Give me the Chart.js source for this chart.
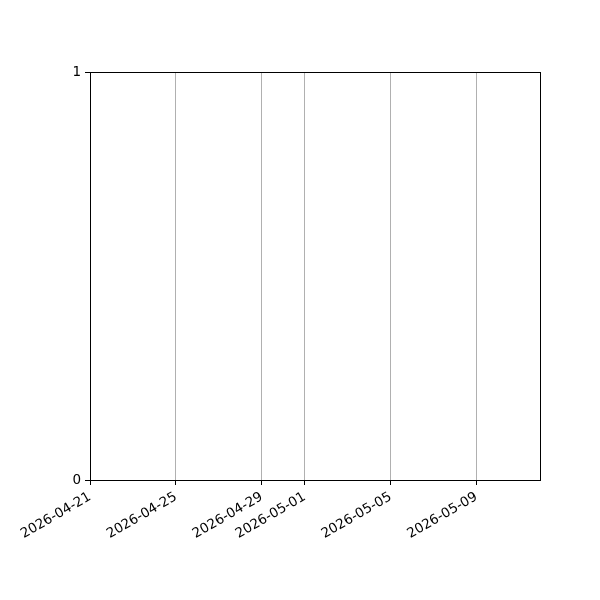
<!DOCTYPE html>
<html>
<head>
<meta charset="utf-8">
<script src="https://cdn.jsdelivr.net/npm/chart.js@4"></script>
<style>
  html, body { margin: 0; padding: 0; background: #fff; }
</style>
</head>
<body>
<canvas id="c" width="600" height="600"></canvas>
<script>
// data (the plot holds no marks, only axes)
const startDate = '2026-04-21';
const endDate = '2026-05-11T23:00:00';
const xTickDates = ['2026-04-21', '2026-04-25', '2026-04-29', '2026-05-01', '2026-05-05', '2026-05-09'];
const yTickValues = [0, 1];
const seriesValues = [];

const DAY = 86400000;
const t0 = Date.parse(startDate + 'T00:00:00Z');
function toDay(s) {
  const iso = s.length == 10 ? s + 'T00:00:00Z' : s + 'Z';
  return (Date.parse(iso) - t0) / DAY;
}
function fmtDay(d) {
  return new Date(t0 + d * DAY).toISOString().slice(0, 10);
}

// box around the plot area
const frame = {
  id: 'frame',
  afterDraw(chart) {
    const a = chart.chartArea, g = chart.ctx;
    g.save();
    g.strokeStyle = '#000';
    g.lineWidth = 1;
    g.strokeRect(Math.round(a.left) + 0.5, Math.round(a.top) + 0.5,
      Math.round(a.right - a.left), Math.round(a.bottom - a.top));
    g.restore();
  }
};

const font = { family: 'DejaVu Sans', size: 13.5 };

new Chart(document.getElementById('c'), {
  type: 'line',
  data: {
    datasets: [{ data: seriesValues, borderColor: '#1f77b4' }]
  },
  options: {
    responsive: false,
    animation: false,
    devicePixelRatio: 1,
    layout: { padding: { top: 72, right: 60, left: 0, bottom: 0 } },
    plugins: { legend: { display: false }, tooltip: { enabled: false } },
    scales: {
      x: {
        type: 'linear',
        min: toDay(startDate),
        max: toDay(endDate),
        afterBuildTicks(ax) { ax.ticks = xTickDates.map(d => ({ value: toDay(d) })); },
        afterFit(ax) { ax.height = 120; },
        grid: { color: '#b0b0b0', tickColor: '#000', tickLength: 5, lineWidth: 1 },
        border: { color: '#000' },
        ticks: {
          font: font, color: '#000', padding: 4,
          minRotation: 30, maxRotation: 30, autoSkip: false,
          callback: v => fmtDay(v)
        }
      },
      y: {
        min: 0, max: 1,
        afterBuildTicks(ax) { ax.ticks = yTickValues.map(v => ({ value: v })); },
        afterFit(ax) { ax.width = 90; },
        grid: { drawOnChartArea: false, tickColor: '#000', tickLength: 5 },
        border: { color: '#000' },
        ticks: { font: font, color: '#000', padding: 4 }
      }
    }
  },
  plugins: [frame]
});
</script>
</body>
</html>
